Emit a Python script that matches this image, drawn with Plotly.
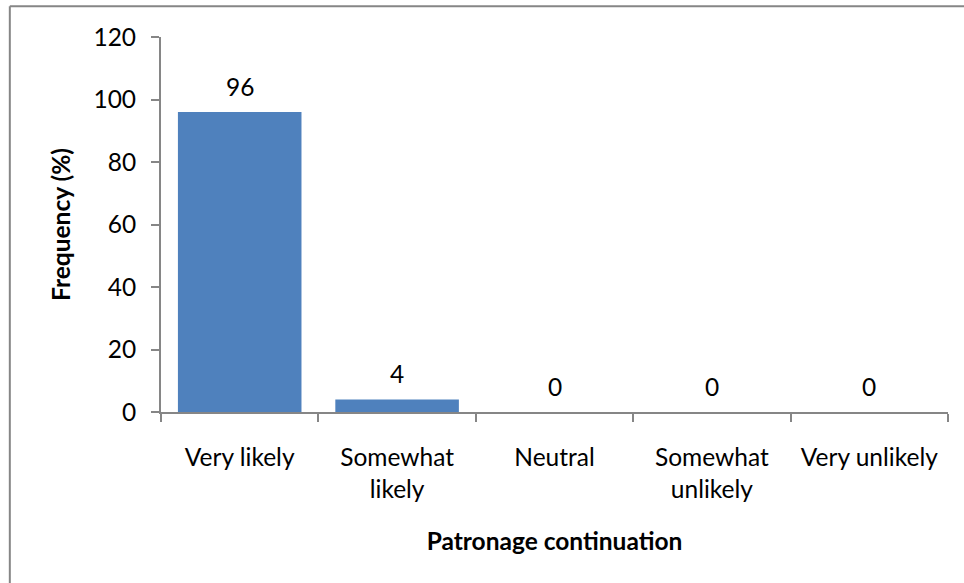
import plotly.graph_objects as go

categories = ["Very likely", "Somewhat<br>likely", "Neutral", "Somewhat<br>unlikely", "Very unlikely"]
frequency = [96, 4, 0, 0, 0]
y_ticks = [0, 20, 40, 60, 80, 100, 120]

FONT = "Lato, Calibri, Carlito, sans-serif"
FS = 24.5
AX = "#868686"

fig = go.Figure()
fig.add_trace(go.Bar(
    x=categories, y=frequency,
    marker=dict(color="#4F81BD", line=dict(width=0)),
    width=0.785,
    showlegend=False,
    hoverinfo="x+y",
))

for c, v in zip(categories, frequency):
    fig.add_annotation(x=c, y=v, text=str(v), showarrow=False,
                       yanchor="middle", yshift=26,
                       font=dict(family=FONT, size=FS, color="#000000"))

# figure border (left and top visible; right/bottom cropped)
fig.add_shape(type="line", xref="paper", yref="paper",
              x0=-0.1921, x1=1.06, y0=1.0819, y1=1.0819,
              line=dict(color=AX, width=2))
fig.add_shape(type="line", xref="paper", yref="paper",
              x0=-0.1921, x1=-0.1921, y0=1.0819, y1=-0.5,
              line=dict(color=AX, width=2))

fig.update_layout(
    width=964, height=583,
    margin=dict(l=161, r=16, t=37, b=171),
    paper_bgcolor="white", plot_bgcolor="white",
    font=dict(family=FONT, size=FS, color="#000000"),
    bargap=0.21,
    xaxis=dict(
        showline=True, linecolor=AX, linewidth=2,
        ticks="outside", tickson="boundaries", ticklen=8, tickcolor=AX, tickwidth=2,
        ticklabelstandoff=23,
        tickfont=dict(family=FONT, size=FS),
        title=dict(text="<b>Patronage continuation</b>", font=dict(family=FONT, size=FS), standoff=31),
        showgrid=False, zeroline=False,
    ),
    yaxis=dict(
        range=[0, 120], tickvals=y_ticks,
        showline=True, linecolor=AX, linewidth=2,
        ticks="outside", ticklen=8, tickcolor=AX, tickwidth=2,
        ticklabelstandoff=10,
        tickfont=dict(family=FONT, size=FS),
        title=dict(text="<b>Frequency (%)</b>", font=dict(family=FONT, size=FS), standoff=16),
        showgrid=False, zeroline=False,
    ),
)

fig.write_html("out.html", config={"displayModeBar": False},
               post_script="document.body.style.margin='0';")
